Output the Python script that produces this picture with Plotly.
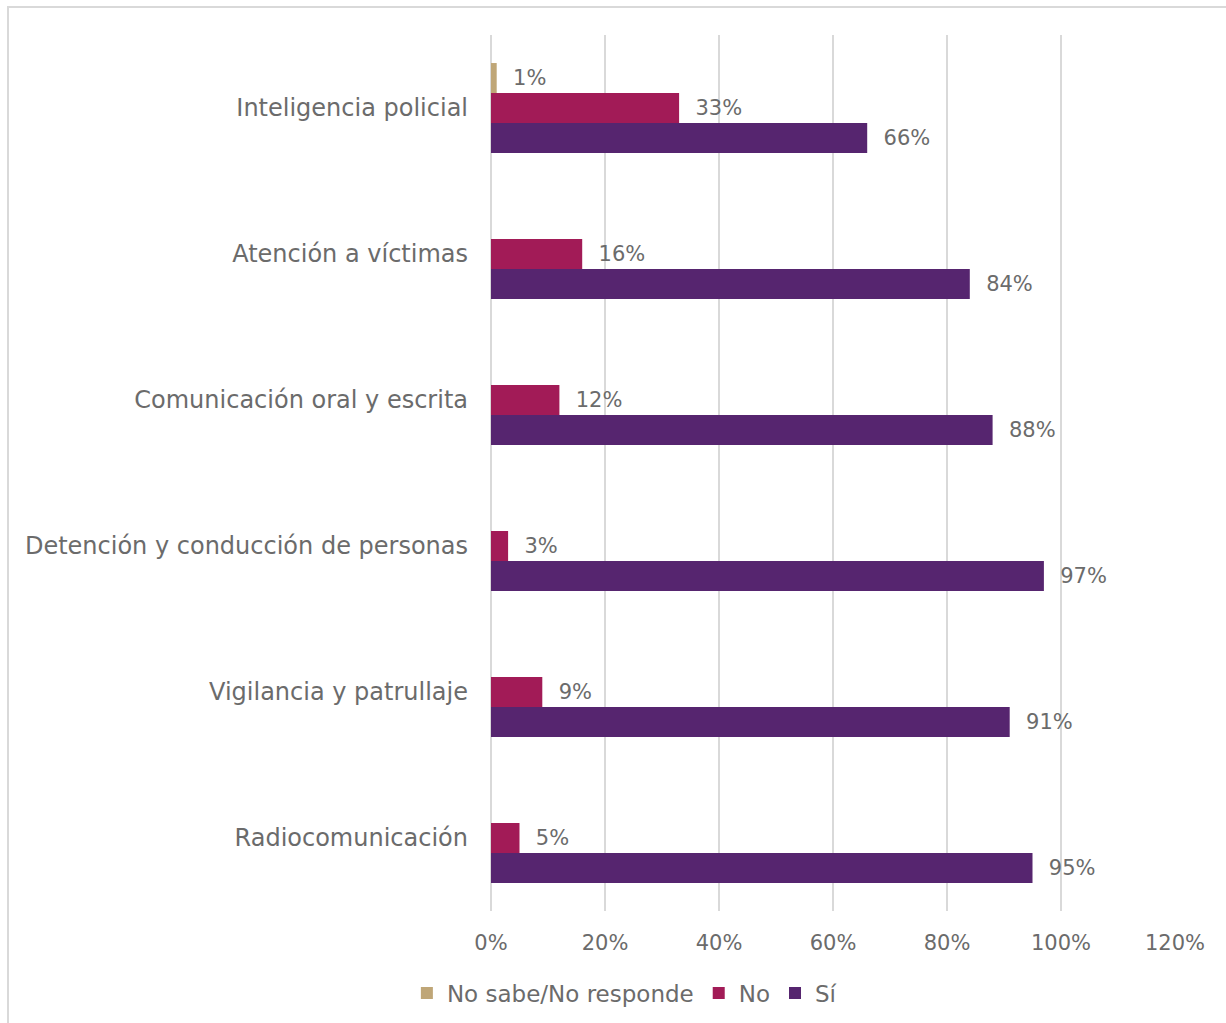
import plotly.graph_objects as go

categories = ["Inteligencia policial", "Atención a víctimas", "Comunicación oral y escrita",
              "Detención y conducción de personas", "Vigilancia y patrullaje", "Radiocomunicación"]
series_names = ["No sabe/No responde", "No", "Sí"]
ns_nr = [0.01, 0, 0, 0, 0, 0]
no = [0.33, 0.16, 0.12, 0.03, 0.09, 0.05]
si = [0.66, 0.84, 0.88, 0.97, 0.91, 0.95]
colors = ["#BFA677", "#A21B57", "#56256F"]
x_ticks = [0, 0.2, 0.4, 0.6, 0.8, 1.0, 1.2]

FONT = "DejaVu Sans, sans-serif"
GRAY = "#6B6B6B"

fig = go.Figure()
for name, vals, col in zip(series_names, [ns_nr, no, si], colors):
    txt = ["\u00a0\u00a0%d%%" % round(v * 100) if v > 0 else "" for v in vals]
    fig.add_trace(go.Bar(
        y=categories, x=vals, name=name, orientation="h",
        marker=dict(color=col, line=dict(width=0)),
        text=txt, textposition="outside", constraintext="none", cliponaxis=False,
        textfont=dict(family=FONT, size=21, color=GRAY),
        hoverinfo="skip",
    ))

fig.update_layout(
    width=1226, height=1023,
    margin=dict(l=491, r=51, t=35, b=112),
    paper_bgcolor="white", plot_bgcolor="white",
    barmode="group", bargap=0.384, bargroupgap=0,
    font=dict(family=FONT, color=GRAY, size=21),
    showlegend=True,
    legend=dict(orientation="h", x=0.195, xanchor="center",
                yref="container", y=(1023 - 993) / 1023, yanchor="middle",
                font=dict(size=23, color=GRAY), itemwidth=30, traceorder="normal"),
    xaxis=dict(range=[0, 1.2], tickvals=x_ticks, tickformat=".0%", showgrid=True,
               gridcolor="#D9D9D9", gridwidth=1.5, zeroline=True, zerolinecolor="#D9D9D9",
               zerolinewidth=1.5, showline=False,
               ticks="", ticklabelstandoff=17, tickfont=dict(size=21, color=GRAY)),
    yaxis=dict(autorange="reversed", showgrid=False, showline=False, ticks="",
               ticklabelstandoff=22, tickfont=dict(size=24, color=GRAY)),
    shapes=[dict(type="rect", xref="paper", yref="paper",
                 x0=(8 - 491) / 684, x1=(1300 - 491) / 684,
                 y0=-(1100 - 911) / 876, y1=(911 - 7) / 876,
                 line=dict(color="#D9D9D9", width=2), layer="below")],
)

fig.write_html("out.html", config={"displayModeBar": False},
               post_script="document.body.style.margin='0';")
